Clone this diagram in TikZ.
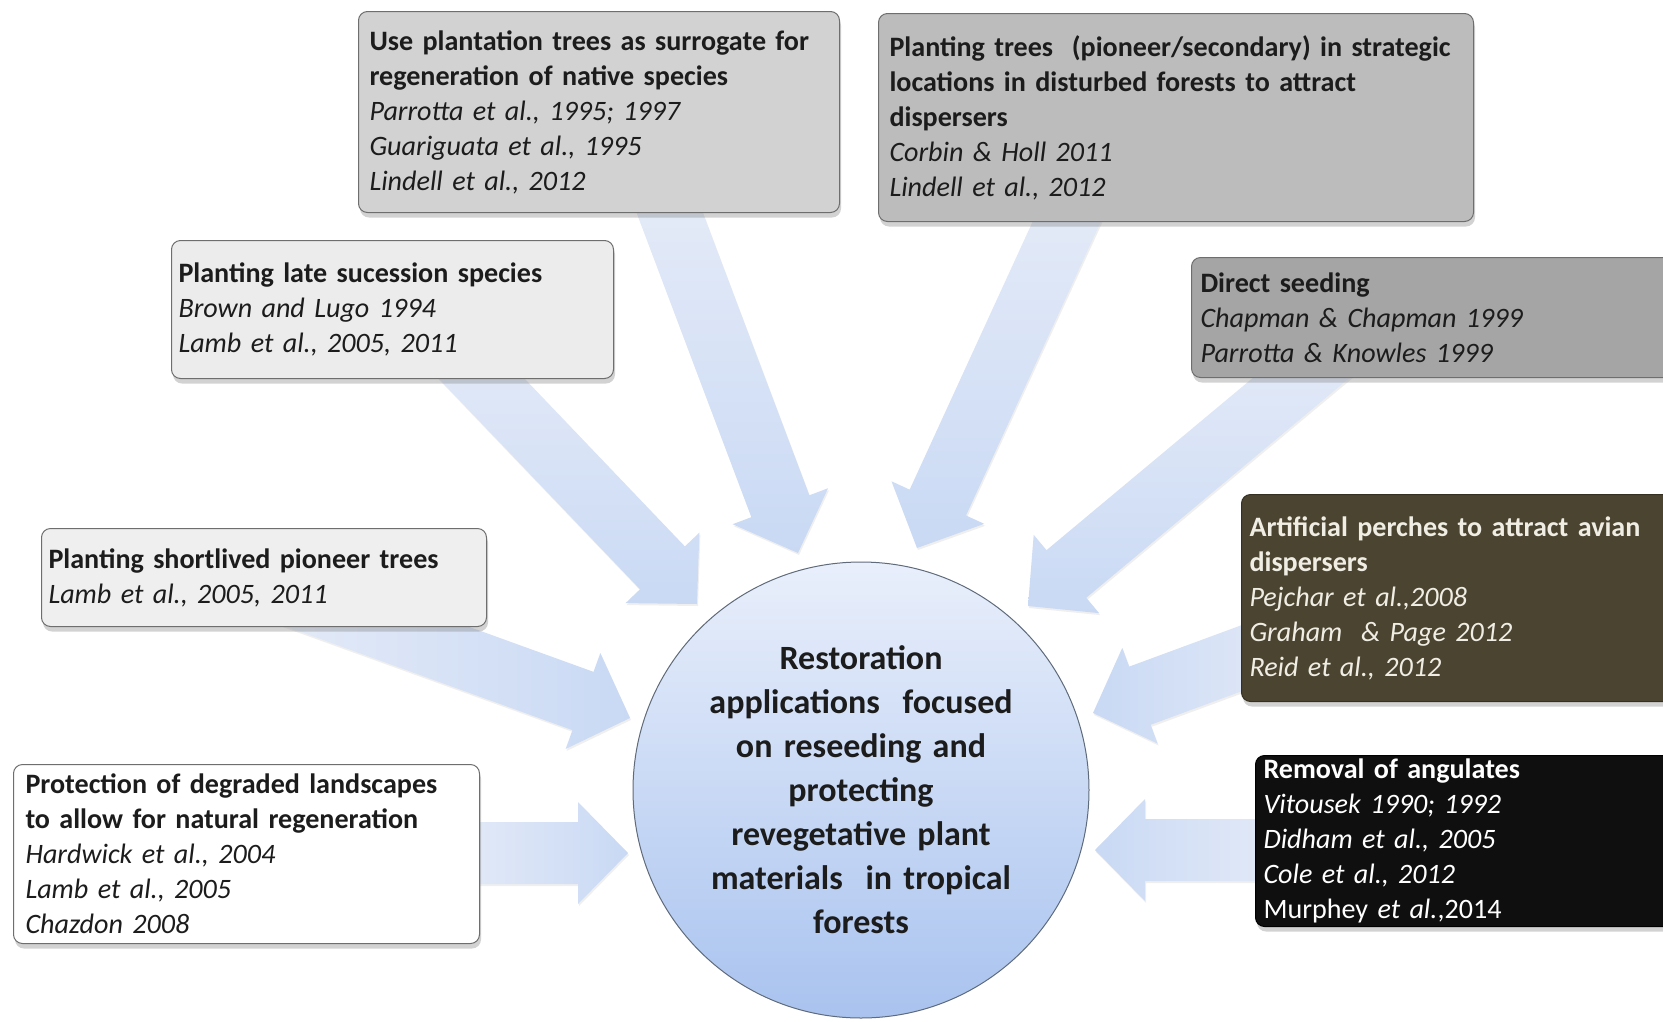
\documentclass[tikz,border=0pt]{standalone}
\usepackage{fontspec}
\setmainfont{Carlito}
\usetikzlibrary{calc,shadows}
\definecolor{boxline}{HTML}{6E6E6E}
\definecolor{txtdark}{HTML}{1C1C1C}
\definecolor{fillA}{HTML}{D2D2D2}
\definecolor{fillB}{HTML}{ECECEC}
\definecolor{fillC}{HTML}{EFEFEF}
\definecolor{fillD}{HTML}{FFFFFF}
\definecolor{fillE}{HTML}{BCBCBC}
\definecolor{fillF}{HTML}{A5A5A5}
\definecolor{fillG}{HTML}{4B4431}
\definecolor{fillH}{HTML}{0F0F0F}
\definecolor{txtlight}{HTML}{F0EEE4}
\definecolor{arrLight}{HTML}{E6ECF8}
\definecolor{arrDark}{HTML}{C9D9F4}
\definecolor{circTop}{HTML}{E9EFFB}
\definecolor{circBot}{HTML}{A9C3EF}
\definecolor{circLine}{HTML}{5F6B7A}
\newcommand\boxfont{\fontsize{28.1}{35}\selectfont}
\newcommand\circfont{\fontsize{34}{44}\selectfont\bfseries}
\pgfdeclarelayer{bglayer}
\pgfdeclarelayer{arrowlayer}
\pgfsetlayers{bglayer,arrowlayer,main}
\newcommand\blockarrow[4][]{%
  \coordinate (#2h) at ($(#4)!50pt!(#3)$);
  \path[arrowbody,#1] ($(#3)!31pt!90:(#4)$) -- ($(#2h)!31pt!90:(#4)$) -- ($(#2h)!51pt!90:(#4)$) -- (#4)
    -- ($(#2h)!51pt!-90:(#4)$) -- ($(#2h)!31pt!-90:(#4)$) -- ($(#3)!31pt!-90:(#4)$) -- cycle;
}
\tikzset{
  refbox/.style={rectangle, rounded corners=9pt, draw=boxline, line width=1pt, anchor=north west,
    align=left, inner ysep=0pt, font=\boxfont, text=txtdark,
    drop shadow={shadow xshift=1.5pt, shadow yshift=-5pt, opacity=0.35}},
  arrowbody/.style={drop shadow={shadow xshift=1pt, shadow yshift=-2pt, opacity=0.12}},
  hub/.style={circle, minimum size=456pt, inner sep=0pt, draw=circLine, line width=1pt,
    top color=circTop, bottom color=circBot, text=txtdark, align=center, text width=340pt, font=\circfont}
}
\begin{document}
\begin{tikzpicture}[x=1pt,y=-1pt]
\useasboundingbox (0,0) rectangle (1663,1021);
\clip (0,0) rectangle (1663,1021);
\begin{pgfonlayer}{bglayer}
\fill[white] (0,0) rectangle (1663,1021);
\end{pgfonlayer}

% boxes
\node[refbox, fill=fillA, minimum width=481pt, minimum height=201pt, text width=459pt, inner xsep=11pt] (b1) at (358,11)
 {\textbf{Use plantation trees as surrogate for}\\\textbf{regeneration of native species}\\\textit{Parrotta et al., 1995; 1997}\\\textit{Guariguata et al., 1995}\\\textit{Lindell et al., 2012}};
\node[refbox, fill=fillB, minimum width=442pt, minimum height=138pt, text width=428pt, inner xsep=7pt] (b2) at (171,240)
 {\textbf{Planting late sucession species}\\\textit{Brown and Lugo 1994}\\\textit{Lamb et al., 2005, 2011}};
\node[refbox, fill=fillC, minimum width=445pt, minimum height=98pt, text width=431pt, inner xsep=7pt] (b3) at (41,528)
 {\textbf{Planting shortlived pioneer trees}\\\textit{Lamb et al., 2005, 2011}};
\node[refbox, fill=fillD, minimum width=466pt, minimum height=179pt, text width=442pt, inner xsep=12pt] (b4) at (13,764)
 {\textbf{Protection of degraded landscapes}\\\textbf{to allow for natural regeneration}\\\textit{Hardwick et al., 2004}\\\textit{Lamb et al., 2005}\\\textit{Chazdon 2008}};
\node[refbox, fill=fillE, minimum width=595pt, minimum height=208pt, text width=573pt, inner xsep=11pt] (b5) at (878,13)
 {\textbf{Planting trees\ \ (pioneer/secondary) in strategic}\\\textbf{locations in disturbed forests to attract}\\\textbf{dispersers}\\\textit{Corbin \& Holl 2011}\\\textit{Lindell et al., 2012}};
\node[refbox, fill=fillF, minimum width=499pt, minimum height=120pt, text width=481pt, inner xsep=9pt] (b6) at (1191,257)
 {\textbf{Direct seeding}\\\textit{Chapman \& Chapman 1999}\\\textit{Parrotta \& Knowles 1999}};
\node[refbox, fill=fillG, draw=fillG!70!black, text=txtlight, minimum width=449pt, minimum height=207pt, text width=433pt, inner xsep=8pt] (b7) at (1241,494)
 {\textbf{Artificial perches to attract avian}\\\textbf{dispersers}\\\textit{Pejchar et al.,2008}\\\textit{Graham\ \ \& Page 2012}\\\textit{Reid et al., 2012}};
\node[refbox, fill=fillH, draw=black, text=white, minimum width=435pt, minimum height=171pt, text width=419pt, inner xsep=8pt] (b8) at (1255,755)
 {\textbf{Removal of angulates}\\\textit{Vitousek 1990; 1992}\\\textit{Didham et al., 2005}\\\textit{Cole et al., 2012}\\Murphey \textit{et al.},2014};

% hub
\node[hub] (c) at (861,790)
 {Restoration\\applications\ \ focused\\on reseeding and\\protecting\\revegetative plant\\materials\ \ in tropical\\forests};

% arrow ends (tails hidden under the boxes)
\coordinate (t1) at (657,179);  \coordinate (p1) at (798,553);
\coordinate (t2) at (441,336);  \coordinate (p2) at (697,604);
\coordinate (t3) at (254,582);  \coordinate (p3) at (630,718);
\coordinate (t4) at (440,853);  \coordinate (p4) at (628,853);
\coordinate (t5) at (1084,184); \coordinate (p5) at (917,548);
\coordinate (t6) at (1343,343); \coordinate (p6) at (1028,606);
\coordinate (t7) at (1318,630); \coordinate (p7) at (1093,713);
\coordinate (t8) at (1300,850); \coordinate (p8) at (1095,850);

\begin{pgfonlayer}{arrowlayer}
\blockarrow[top color=arrLight, bottom color=arrDark]{a1}{t1}{p1}
\blockarrow[top color=arrLight, bottom color=arrDark]{a2}{t2}{p2}
\blockarrow[left color=arrLight, right color=arrDark]{a3}{t3}{p3}
\blockarrow[left color=arrLight, right color=arrDark]{a4}{t4}{p4}
\blockarrow[top color=arrLight, bottom color=arrDark]{a5}{t5}{p5}
\blockarrow[top color=arrLight, bottom color=arrDark]{a6}{t6}{p6}
\blockarrow[left color=arrDark, right color=arrLight]{a7}{t7}{p7}
\blockarrow[left color=arrDark, right color=arrLight]{a8}{t8}{p8}
\end{pgfonlayer}
\end{tikzpicture}
\end{document}
